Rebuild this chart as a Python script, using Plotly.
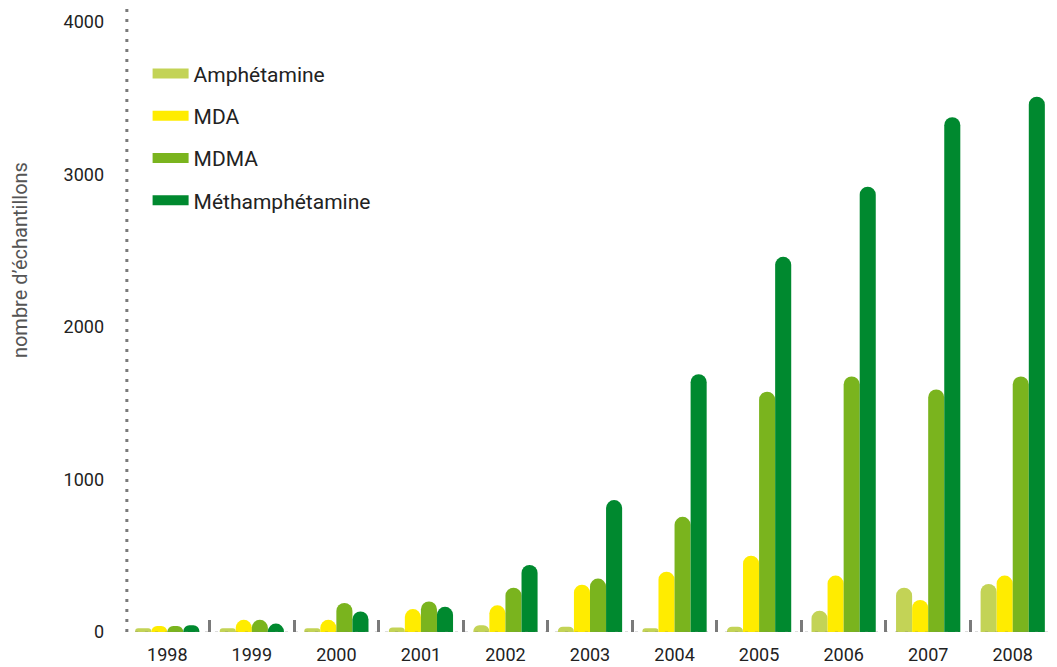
import plotly.graph_objects as go

years = ["1998", "1999", "2000", "2001", "2002", "2003", "2004", "2005", "2006", "2007", "2008"]
amphetamine = [25, 25, 25, 30, 45, 35, 25, 35, 140, 290, 315]
mda = [40, 80, 80, 150, 175, 310, 395, 500, 370, 210, 370]
mdma = [40, 80, 190, 200, 290, 350, 755, 1575, 1675, 1590, 1675]
methamphetamine = [45, 55, 135, 165, 440, 865, 1690, 2460, 2920, 3375, 3510]

series = [
    ("Amphétamine", amphetamine, "#c3d356"),
    ("MDA", mda, "#ffec00"),
    ("MDMA", mdma, "#7ab41e"),
    ("Méthamphétamine", methamphetamine, "#00892f"),
]

fig = go.Figure()
for name, vals, col in series:
    fig.add_trace(go.Bar(x=years, y=vals, name=name, marker_color=col,
                         marker_line_width=0, showlegend=False))
for i, (name, vals, col) in enumerate(series):
    fig.add_trace(go.Scatter(x=[None], y=[None], mode="lines", name=name,
                             line=dict(color=col, width=11),
                             legendgroup=f"g{i}", showlegend=True))

font = "Roboto, DejaVu Sans, sans-serif"
fig.update_layout(
    width=1057, height=667,
    margin=dict(l=125, r=2, t=5, b=35),
    plot_bgcolor="white", paper_bgcolor="white",
    barmode="group", bargap=0.24, bargroupgap=0,
    barcornerradius="50%",
    font=dict(family=font, size=18, color="#222"),
    legend=dict(x=0.0243, y=0.923, xanchor="left", yanchor="top",
                font=dict(size=21, color="#222"), tracegroupgap=12,
                itemwidth=36, bgcolor="rgba(0,0,0,0)"),
    xaxis=dict(type="category", showgrid=False, showline=False, zeroline=False,
               ticks="inside", tickson="boundaries", ticklen=12, tickwidth=3,
               tickcolor="#7a7a7a", ticklabelstandoff=10,
               tickfont=dict(size=18, color="#222")),
    yaxis=dict(range=[0, 4111], tickvals=[0, 1000, 2000, 3000, 4000],
               showgrid=False, zeroline=False, showline=False, ticks="",
               ticklabelstandoff=20, tickfont=dict(size=18, color="#222")),
)

# dotted axis lines
fig.add_shape(type="line", xref="paper", yref="paper", x0=0.002, x1=0.002, y0=0, y1=1,
              line=dict(color="#7a7a7a", width=3, dash="3px,7px"))
fig.add_shape(type="line", xref="paper", yref="y", x0=0.0, x1=0.995, y0=-8, y1=-8,
              line=dict(color="#7a7a7a", width=3, dash="3px,7px"))

fig.add_annotation(text="nombre d’échantillons", textangle=-90, xref="paper", yref="paper",
                   x=-0.113, y=0.593, showarrow=False, xanchor="center", yanchor="middle",
                   font=dict(size=20, color="#555"))

fig.write_html("out.html", config={"displayModeBar": False},
               post_script="document.body.style.margin='0';")
